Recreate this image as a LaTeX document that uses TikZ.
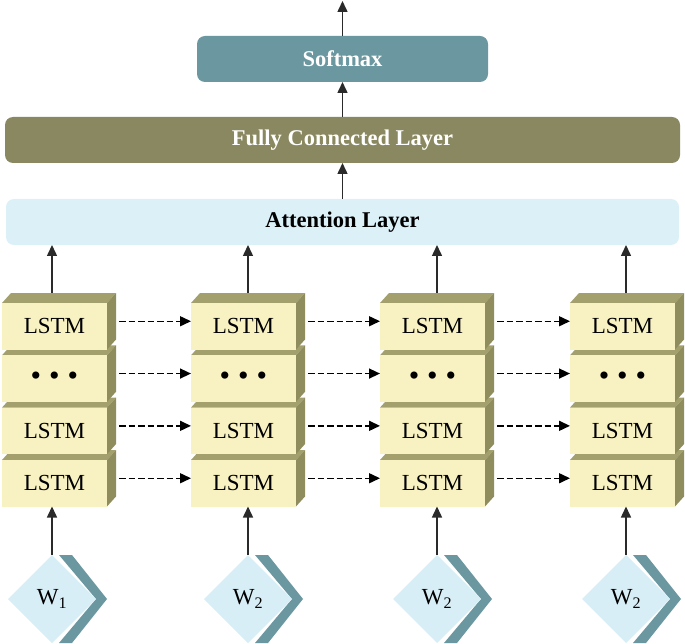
\documentclass[tikz,border=0pt]{standalone}
\usepackage{fontspec}
\setmainfont{Liberation Serif}
\usetikzlibrary{arrows.meta,calc,shapes.geometric}
\definecolor{softc}{HTML}{6A97A0}
\definecolor{fcc}{HTML}{8A8860}
\definecolor{attc}{HTML}{DCF0F8}
\definecolor{lfront}{HTML}{F8F2C2}
\definecolor{ltop}{HTML}{A3A06D}
\definecolor{lside}{HTML}{8F8D5E}
\definecolor{dfill}{HTML}{D8EEF6}
\definecolor{chev}{HTML}{6A97A0}
\definecolor{arr}{HTML}{2A2A2A}
\newcommand\lstmdots{{\fontsize{30}{30}\selectfont\textbullet\hspace{8pt}\textbullet\hspace{8pt}\textbullet}}
\begin{document}
\begin{tikzpicture}[x=1pt,y=-1pt,
  layer/.style={rounded corners=8pt, minimum height=46pt, inner sep=0pt, outer sep=0pt, font=\fontsize{22.5}{26}\selectfont\bfseries},
  lstm/.style={fill=lfront, minimum width=105pt, minimum height=46.5pt, inner sep=0pt, outer sep=0pt, font=\fontsize{23}{26}\selectfont},
  word/.style={diamond, fill=dfill, minimum width=88pt, minimum height=88pt, inner sep=0pt, outer sep=0pt, font=\fontsize{23}{26}\selectfont},
  uparrow/.style={draw=arr, line width=1.5pt, -{Triangle[length=11pt,width=10pt]}},
  dasharrow/.style={draw=black, line width=1.5pt, dash pattern=on 6.5pt off 3pt, -{Triangle[length=11pt,width=10pt]}},
]
\useasboundingbox (0,0) rectangle (685,644);

% layers
\node[layer, fill=softc, text=white, minimum width=291pt] (soft) at (342.5,59) {Softmax};
\node[layer, fill=fcc, text=white, minimum width=675pt] (fc) at (342.5,140) {Fully Connected Layer};
\node[layer, fill=attc, text=black, minimum width=673pt] (att) at (342.5,222) {Attention Layer};
\coordinate (out) at (342.5,1);
\draw[uparrow] (soft.north) -- (out);
\draw[uparrow] (fc.north) -- (soft.south);
\draw[uparrow] (att.north) -- (fc.south);

% LSTM stacks
\foreach \i/\L/\ax in {1/2/52, 2/191/248, 3/380/437, 4/570/626} {
  \foreach \r/\T/\txt in {4/460/LSTM, 3/407.6/LSTM, 2/355.3/\lstmdots, 1/303/LSTM} {
    \fill[ltop] ({\L},{\T}) -- ({\L+9},{\T-10}) -- ({\L+114},{\T-10}) -- ({\L+105},{\T}) -- cycle;
    \fill[lside] ({\L+105},{\T}) -- ({\L+114},{\T-10}) -- ({\L+114},{\T+36.5}) -- ({\L+105},{\T+46.5}) -- cycle;
    \node[lstm] (c\i r\r) at ({\L+52.5},{\T+23.25}) {\txt};
  }
  \coordinate (top\i) at (\ax,293);
  \draw[uparrow] (top\i) -- (top\i |- att.south);
  % word diamond
  \fill[chev] ({\ax+7},555) -- ({\ax+20},555) -- ({\ax+55},599) -- ({\ax+20},643) -- ({\ax+7},643) -- ({\ax+44},599) -- cycle;
}
\node[word] (w1) at (52,599) {W\textsubscript{1}};
\node[word] (w2) at (248,599) {W\textsubscript{2}};
\node[word] (w3) at (437,599) {W\textsubscript{2}};
\node[word] (w4) at (626,599) {W\textsubscript{2}};
\foreach \i in {1,2,3,4} {
  \draw[uparrow] (w\i.north) -- (w\i.north |- c\i r4.south);
}
% recurrent dashed arrows
\foreach \i/\j in {1/2, 2/3, 3/4} {
  \foreach \r in {1,2,3,4} {
    \draw[dasharrow] ($(c\i r\r.east)+(12,-5)$) -- ($(c\j r\r.west)+(0,-5)$);
  }
}
\end{tikzpicture}
\end{document}
